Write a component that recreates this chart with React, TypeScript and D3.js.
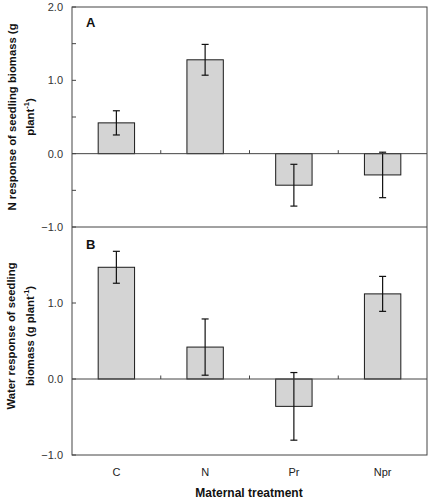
import React from "react";
import * as d3 from "d3";

const categories = ["C", "N", "Pr", "Npr"];
const nMeans = [0.42, 1.28, -0.43, -0.29];
const nSE = [0.165, 0.21, 0.285, 0.31];
const waterMeans = [1.47, 0.42, -0.36, 1.12];
const waterSE = [0.21, 0.37, 0.445, 0.23];
const yTicksA = [-1, -0.5, 0, 0.5, 1, 1.5, 2];
const yLabelsA = [-1, 0, 1, 2];
const yTicksB = [-1, 0, 1];
const yLabelsB = [-1, 0, 1];

const W = 430;
const H = 501;
const left = 72;
const right = 427;
const font = "Arial, 'Liberation Sans', sans-serif";

const x = d3.scaleBand<string>().domain(categories).range([left, right]).paddingInner(0.59).paddingOuter(0.295);
const band = d3.scaleBand<string>().domain(categories).range([left, right]).padding(0);

type PanelProps = {
  top: number;
  bottom: number;
  means: number[];
  se: number[];
  ticks: number[];
  labels: number[];
  letter: string;
  letterY: number;
  yLines: string[];
  yLineX: number[];
  labelCy: number;
};

function Panel({ top, bottom, means, se, ticks, labels, letter, letterY, yLines, yLineX, labelCy }: PanelProps) {
  const y = d3.scaleLinear().domain([-1, 2]).range([bottom, top]);
  const y0 = y(0);
  const fmt = d3.format(".1f");
  const boundaries = categories.slice(1).map((c) => band(c) as number);
  return (
    <g>
      {categories.map((c, i) => {
        const v = means[i];
        const bx = x(c) as number;
        const bw = x.bandwidth();
        const cx = bx + bw / 2;
        const yTop = y(Math.max(0, v));
        const yBot = y(Math.min(0, v));
        const e1 = y(v + se[i]);
        const e2 = y(v - se[i]);
        return (
          <g key={c}>
            <rect x={bx} y={yTop} width={bw} height={yBot - yTop} fill="#d4d4d4" stroke="#1a1a1a" strokeWidth={1} />
            <line x1={cx} x2={cx} y1={e1} y2={e2} stroke="#111" strokeWidth={1.2} />
            <line x1={cx - 3.5} x2={cx + 3.5} y1={e1} y2={e1} stroke="#111" strokeWidth={1.2} />
            <line x1={cx - 3.5} x2={cx + 3.5} y1={e2} y2={e2} stroke="#111" strokeWidth={1.2} />
          </g>
        );
      })}
      <line x1={left} x2={right} y1={y0} y2={y0} stroke="#444" strokeWidth={1} />
      {boundaries.map((bx, i) => (
        <line key={i} x1={bx} x2={bx} y1={y0} y2={y0 - 3.5} stroke="#444" strokeWidth={1} />
      ))}
      {ticks.map((t) => (
        <line key={t} x1={left} x2={left + 4} y1={y(t)} y2={y(t)} stroke="#444" strokeWidth={1} />
      ))}
      {labels.map((t) => (
        <text key={t} x={63} y={y(t)} dy="0.35em" textAnchor="end" fontFamily={font} fontSize={11} fill="#333">
          {fmt(t)}
        </text>
      ))}
      <text x={86} y={letterY} fontFamily={font} fontSize={13} fontWeight="bold" fill="#111">
        {letter}
      </text>
      {yLines.map((line, i) => (
        <text
          key={i}
          transform={`translate(${yLineX[i]},${labelCy}) rotate(-90)`}
          textAnchor="middle"
          fontFamily={font}
          fontSize={11.3}
          fontWeight="bold"
          fill="#111"
        >
          {line.split("^").map((part, j) =>
            j % 2 === 1 ? (
              <tspan key={j} fontSize={7.5} dy={-5}>
                {part}
              </tspan>
            ) : (
              <tspan key={j} dy={j === 0 ? 0 : 5}>
                {part}
              </tspan>
            )
          )}
        </text>
      ))}
    </g>
  );
}

export default function App() {
  const topA = 7;
  const midY = 227;
  const botB = 455;
  return (
    <svg width={W} height={H} style={{ position: "absolute", left: 0, top: 0, background: "#fff" }}>
      <rect x={0} y={0} width={W} height={H} fill="#fff" />
      <Panel
        top={topA}
        bottom={midY}
        means={nMeans}
        se={nSE}
        ticks={yTicksA}
        labels={yLabelsA}
        letter="A"
        letterY={27}
        yLines={["N response of seedling biomass (g", "plant^-1^)"]}
        yLineX={[16, 34]}
        labelCy={117}
      />
      <Panel
        top={midY}
        bottom={botB}
        means={waterMeans}
        se={waterSE}
        ticks={yTicksB}
        labels={yLabelsB}
        letter="B"
        letterY={249}
        yLines={["Water response of seedling", "biomass (g plant^-1^)"]}
        yLineX={[15, 34]}
        labelCy={336}
      />
      <rect x={left} y={topA} width={right - left} height={botB - topA} fill="none" stroke="#444" strokeWidth={1} />
      <line x1={left} x2={right} y1={midY} y2={midY} stroke="#444" strokeWidth={1} />
      {categories.map((c) => (
        <text
          key={c}
          x={(x(c) as number) + x.bandwidth() / 2}
          y={476}
          textAnchor="middle"
          fontFamily={font}
          fontSize={11}
          fill="#222"
        >
          {c}
        </text>
      ))}
      <text x={249} y={497} textAnchor="middle" fontFamily={font} fontSize={12} fontWeight="bold" fill="#111">
        Maternal treatment
      </text>
    </svg>
  );
}
